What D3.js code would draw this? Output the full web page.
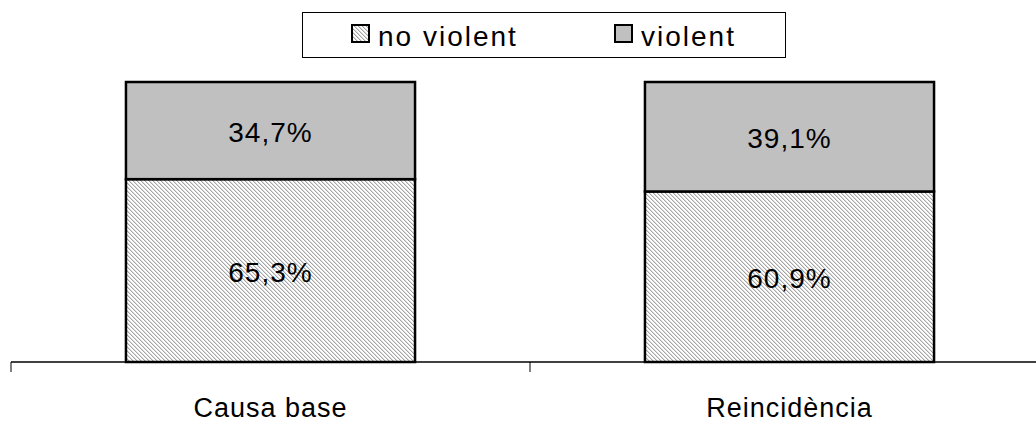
<!DOCTYPE html>
<html><head><meta charset="utf-8">
<script src="https://cdn.jsdelivr.net/npm/d3@7"></script>
<style>body{margin:0;background:#fff}svg{display:block}text{font-family:"Liberation Sans",Arial,sans-serif;fill:#000}</style>
</head><body><svg id="c" width="1036" height="424"></svg>
<script>
const categories = ["Causa base", "Reincidència"];
const seriesNames = ["no violent", "violent"];
const noViolent = [65.3, 60.9];
const violent = [34.7, 39.1];
const valueLabels = [["65,3%", "60,9%"], ["34,7%", "39,1%"]];

const svg = d3.select("#c");
const defs = svg.append("defs");
const pat = defs.append("pattern").attr("id","hatch").attr("patternUnits","userSpaceOnUse")
  .attr("width",4).attr("height",4);
pat.append("rect").attr("width",4).attr("height",4).attr("fill","#ffffff");
for (let i=0;i<4;i++){
  pat.append("rect").attr("x",i).attr("y",i).attr("width",1).attr("height",1).attr("fill","#a4a4a4");
  pat.append("rect").attr("x",(i+1)%4).attr("y",i).attr("width",1).attr("height",1).attr("fill","#dcdcdc");
}
const fills = ["url(#hatch)", "#c0c0c0"];

const x = d3.scaleBand().domain(categories).range([11, 1049]).padding(0);
const y = d3.scaleLinear().domain([0, 100]).range([362, 82]);
const barFrac = 0.557;
const bw = x.bandwidth()*barFrac;

const stackData = categories.map((c,i)=>({cat:c, "no violent":noViolent[i], "violent":violent[i]}));
const stack = d3.stack().keys(seriesNames)(stackData);

stack.forEach((layer, si) => {
  const g = svg.append("g");
  g.selectAll("rect").data(layer).join("rect")
    .attr("x", d => x(d.data.cat) + (x.bandwidth()-bw)/2)
    .attr("y", d => y(d[1]))
    .attr("width", bw)
    .attr("height", d => y(d[0]) - y(d[1]))
    .attr("fill", fills[si])
    .attr("stroke", "#000").attr("stroke-width", 2.5);
  g.selectAll("text").data(layer).join("text")
    .attr("x", d => x(d.data.cat) + x.bandwidth()/2)
    .attr("y", d => (y(d[0]) + y(d[1]))/2 + 11)
    .attr("text-anchor","middle")
    .style("font-size","28px").style("letter-spacing","1px")
    .text((d,i) => valueLabels[si][i]);
});

// axis
const axis = d3.axisBottom(x).tickSize(0).tickFormat("");
const ag = svg.append("g").attr("transform","translate(0,362)").call(axis);
ag.select(".domain").attr("stroke","#000").attr("stroke-width",1.5).attr("d","M11,0H1049");
ag.selectAll(".tick").remove();
const bounds = [...categories.map(c=>x(c)), x.range()[1]];
svg.append("g").selectAll("line").data(bounds).join("line")
  .attr("x1", d=>d).attr("x2", d=>d).attr("y1",362).attr("y2",372)
  .attr("stroke","#000").attr("stroke-width",1);
svg.append("g").selectAll("text").data(categories).join("text")
  .attr("x", c => x(c) + x.bandwidth()/2).attr("y", 417)
  .attr("text-anchor","middle")
  .style("font-size","27px").style("letter-spacing","1px")
  .text(c=>c);

// legend
const lg = svg.append("g");
lg.append("rect").attr("x",302.5).attr("y",12.5).attr("width",483).attr("height",45)
  .attr("fill","#fff").attr("stroke","#000").attr("stroke-width",1);
const legX = [351, 614];
seriesNames.forEach((s,i)=>{
  lg.append("rect").attr("x",legX[i]+1).attr("y",25).attr("width",17).attr("height",17)
    .attr("fill",fills[i]).attr("stroke","#000").attr("stroke-width",2);
  lg.append("text").attr("x",legX[i]+27).attr("y",46)
    .style("font-size","28px").style("letter-spacing","2px").text(s);
});
</script></body></html>
